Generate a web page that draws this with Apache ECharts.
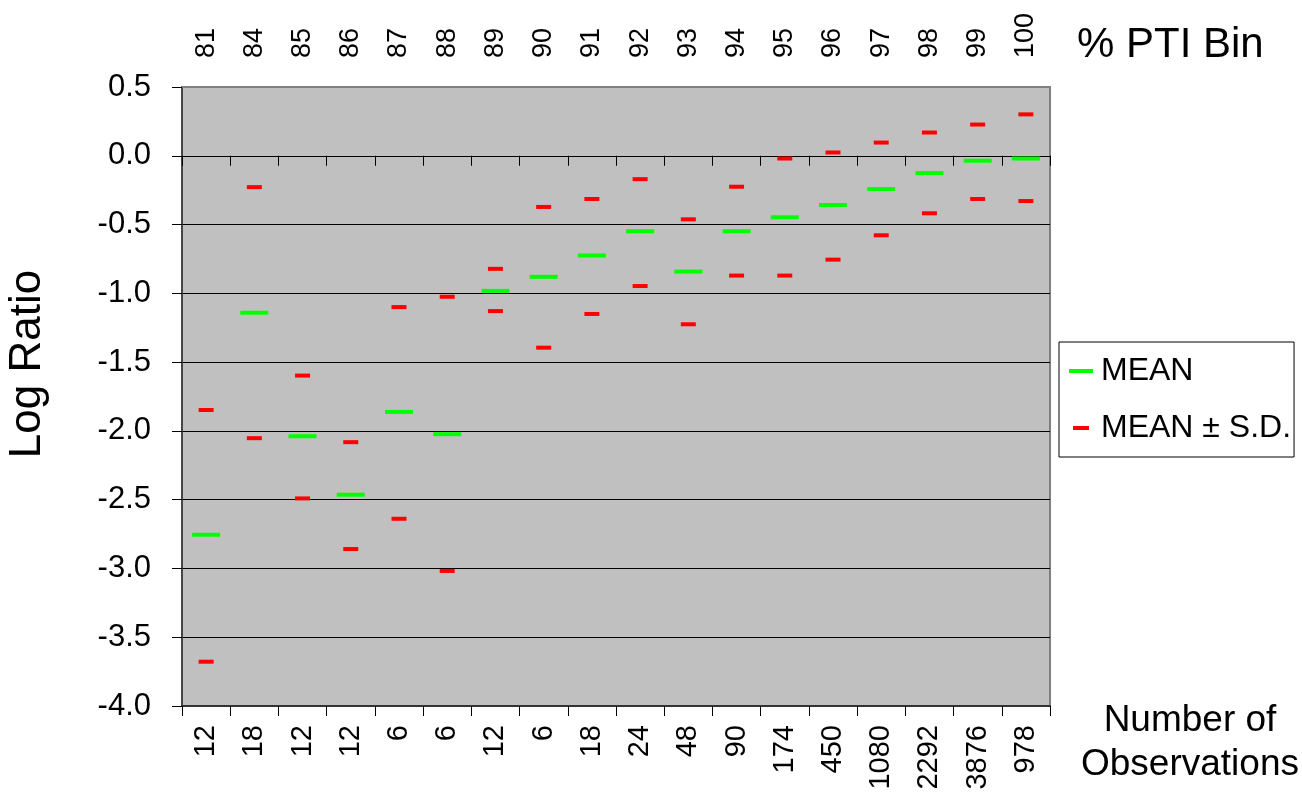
<!DOCTYPE html>
<html>
<head>
<meta charset="utf-8">
<title>Log Ratio by % PTI Bin</title>
<script src="https://cdn.jsdelivr.net/npm/echarts@6/dist/echarts.min.js"></script>
<style>
  html, body { margin: 0; padding: 0; background: #fff; }
  #chart { width: 1302px; height: 792px; }
</style>
</head>
<body>
<div id="chart"></div>
<script>
// % PTI bins (top axis) and number of observations in each bin (bottom axis)
const bins = ['81', '84', '85', '86', '87', '88', '89', '90', '91', '92', '93', '94', '95', '96', '97', '98', '99', '100'];
const observations = ['12', '18', '12', '12', '6', '6', '12', '6', '18', '24', '48', '90', '174', '450', '1080', '2292', '3876', '978'];

// Log ratio: mean, mean + S.D., mean - S.D. per bin
const meanVals  = [-2.755, -1.141, -2.039, -2.464, -1.862, -2.024, -0.982, -0.880, -0.725, -0.549, -0.842, -0.549, -0.447, -0.358, -0.242, -0.126, -0.036, -0.020];
const upperVals = [-1.848, -0.228, -1.598, -2.082, -1.100, -1.025, -0.822, -0.372, -0.314, -0.170, -0.462, -0.225, -0.020, 0.024, 0.096, 0.169, 0.227, 0.301];
const lowerVals = [-3.678, -2.053, -2.491, -2.859, -2.639, -3.018, -1.129, -1.395, -1.150, -0.947, -1.225, -0.871, -0.871, -0.755, -0.578, -0.418, -0.314, -0.329];

const FONT = "'Liberation Sans', Arial, Helvetica, sans-serif";

const meanData = bins.map((b, i) => [b, meanVals[i]]);
const sdData = bins.map((b, i) => [b, upperVals[i]]).concat(bins.map((b, i) => [b, lowerVals[i]]));

const chart = echarts.init(document.getElementById('chart'), null, { renderer: 'canvas' });

chart.setOption({
  animation: false,
  backgroundColor: '#ffffff',
  textStyle: { fontFamily: FONT, color: '#000' },
  grid: {
    left: 182, right: 252, top: 87, bottom: 86,
    show: true,
    backgroundColor: '#C0C0C0',
    borderColor: '#808080',
    borderWidth: 2,
    containLabel: false,
    outerBoundsMode: 'none'
  },
  xAxis: [
    {
      // number of observations, along the bottom
      type: 'category',
      data: observations,
      position: 'bottom',
      boundaryGap: true,
      axisLine: { onZero: false, lineStyle: { color: '#333', width: 2 } },
      axisTick: { show: true, length: 10, lineStyle: { color: '#000', width: 1 } },
      axisLabel: {
        interval: 0, rotate: 90, margin: 19,
        fontSize: 29, fontFamily: FONT, color: '#000',
        padding: [14, 0, 0, 0]
      },
      splitLine: { show: false }
    },
    {
      // % PTI bins, labelled above the plot
      type: 'category',
      data: bins,
      position: 'top',
      boundaryGap: true,
      axisLine: { show: true, onZero: false, lineStyle: { color: '#808080', width: 2 } },
      axisTick: { show: false },
      axisLabel: {
        interval: 0, rotate: -90, margin: 29,
        fontSize: 27, fontFamily: FONT, color: '#000'
      },
      splitLine: { show: false }
    },
    {
      // bin axis line crossing at zero, ticks only
      type: 'category',
      data: bins,
      position: 'bottom',
      boundaryGap: true,
      axisLine: { show: true, onZero: true, onZeroAxisIndex: 0, lineStyle: { color: '#000', width: 1 } },
      axisTick: { show: true, length: 10, lineStyle: { color: '#000', width: 1 } },
      axisLabel: { show: false },
      splitLine: { show: false }
    }
  ],
  yAxis: {
    type: 'value',
    min: -4,
    max: 0.5,
    interval: 0.5,
    axisLine: { show: true, onZero: false, lineStyle: { color: '#333', width: 1.5 } },
    axisTick: { show: true, length: 10, lineStyle: { color: '#000', width: 1 } },
    axisLabel: {
      margin: 31, fontSize: 31, fontFamily: FONT, color: '#000',
      formatter: v => v.toFixed(1)
    },
    splitLine: { show: true, lineStyle: { color: '#000', width: 1 } }
  },
  legend: {
    orient: 'vertical',
    left: 1059,
    top: 342,
    padding: [12, 3, 12, 10],
    itemGap: 23,
    itemWidth: 24,
    itemHeight: 4,
    selectedMode: false,
    backgroundColor: '#ffffff',
    borderColor: '#000',
    borderWidth: 1,
    borderRadius: 0,
    textStyle: { fontSize: 32, fontFamily: FONT, color: '#000', lineHeight: 34, padding: [0, 0, 0, 3] },
    data: [
      { name: 'MEAN', icon: 'path://M0 0H24V4H0Z' },
      { name: 'MEAN ± S.D.', icon: 'path://M0 0H16V4H0Z' }
    ]
  },
  graphic: [
    {
      type: 'text',
      x: 1077, y: 45,
      style: { text: '% PTI Bin', font: '42px ' + FONT, fill: '#000', align: 'left', verticalAlign: 'middle' }
    },
    {
      type: 'text',
      x: 1190, y: 721,
      style: { text: 'Number of', font: '37px ' + FONT, fill: '#000', align: 'center', verticalAlign: 'middle' }
    },
    {
      type: 'text',
      x: 1190, y: 765,
      style: { text: 'Observations', font: '37px ' + FONT, fill: '#000', align: 'center', verticalAlign: 'middle' }
    },
    {
      type: 'text',
      x: 28, y: 364,
      rotation: Math.PI / 2,
      style: { text: 'Log Ratio', font: '44px ' + FONT, fill: '#000', align: 'center', verticalAlign: 'middle' }
    }
  ],
  series: [
    {
      name: 'MEAN',
      type: 'scatter',
      xAxisIndex: 1,
      yAxisIndex: 0,
      symbol: 'rect',
      symbolSize: [28, 4],
      itemStyle: { color: '#00FF00', opacity: 1 },
      emphasis: { disabled: true },
      data: meanData,
      z: 3
    },
    {
      name: 'MEAN ± S.D.',
      type: 'scatter',
      xAxisIndex: 1,
      yAxisIndex: 0,
      symbol: 'rect',
      symbolSize: [15, 4],
      itemStyle: { color: '#FF0000', opacity: 1 },
      emphasis: { disabled: true },
      data: sdData,
      z: 3
    }
  ]
});
</script>
</body>
</html>
